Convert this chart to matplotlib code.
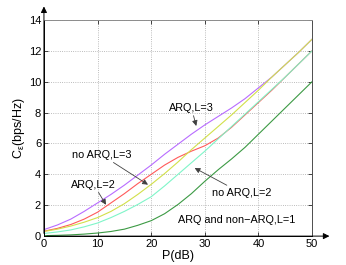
import numpy as np
from matplotlib import pyplot as plt

plt.rcParams['font.family'] = ['Liberation Sans', 'DejaVu Sans']
plt.rcParams['mathtext.fontset'] = 'custom'
plt.rcParams['mathtext.rm'] = 'Liberation Sans'
plt.rcParams['mathtext.it'] = 'Liberation Sans'

# power axis (dB)
p_db = [0, 2.5, 5, 7.5, 10, 12.5, 15, 17.5, 20, 22.5, 25,
        27.5, 30, 32.5, 35, 37.5, 40, 42.5, 45, 47.5, 50]

# capacity curves
arq_l3 = [0.42, 0.72, 1.1, 1.6, 2.15, 2.7, 3.3, 3.95, 4.6, 5.3, 5.95,
          6.6, 7.2, 7.75, 8.3, 8.9, 9.6, 10.3, 11.1, 11.9, 12.75]
noarq_l3 = [0.3, 0.45, 0.65, 0.9, 1.2, 1.6, 2.1, 2.7, 3.35, 4.05, 4.8,
            5.6, 6.35, 7.1, 7.85, 8.65, 9.45, 10.3, 11.1, 11.9, 12.75]
arq_l2 = [0.32, 0.5, 0.75, 1.1, 1.55, 2.15, 2.75, 3.4, 4.0, 4.6, 5.1,
          5.5, 5.85, 6.35, 7.05, 7.85, 8.65, 9.45, 10.3, 11.15, 12.0]
noarq_l2 = [0.17, 0.27, 0.4, 0.6, 0.85, 1.2, 1.6, 2.05, 2.55, 3.25, 4.0,
            4.75, 5.5, 6.3, 7.1, 7.9, 8.7, 9.5, 10.3, 11.15, 12.0]
both_l1 = [0.03, 0.05, 0.08, 0.13, 0.2, 0.3, 0.45, 0.7, 1.0, 1.45, 2.05,
           2.75, 3.55, 4.3, 5.0, 5.75, 6.6, 7.45, 8.3, 9.15, 10.0]

x_ticks = [0, 10, 20, 30, 40, 50]
y_ticks = [0, 2, 4, 6, 8, 10, 12, 14]

fig = plt.figure(figsize=(3.46, 2.65), dpi=100)
ax = fig.add_axes([0.127, 0.109, 0.775, 0.816])

ax.plot(p_db, arq_l3, color='#b86cff', lw=0.8)
ax.plot(p_db, arq_l2, color='#ff5a5a', lw=0.8)
ax.plot(p_db, noarq_l3, color='#d2e04a', lw=0.8)
ax.plot(p_db, noarq_l2, color='#7ff5c8', lw=0.8)
ax.plot(p_db, both_l1, color='#3c9a44', lw=0.8)

ax.set_xlim(0, 50)
ax.set_ylim(0, 14)
ax.set_xticks(x_ticks)
ax.set_yticks(y_ticks)
ax.tick_params(direction='in', length=3, width=0.5, labelsize=8, pad=2,
               top=True, right=True, colors='k')
ax.grid(True, linestyle=':', color='0.65', lw=0.6)

ax.spines['top'].set_color('0.55')
ax.spines['right'].set_color('0.3')
for s in ax.spines.values():
    s.set_linewidth(0.7)

ax.set_xlabel('P(dB)', fontsize=9, labelpad=1)
ax.set_ylabel(r'C$_\epsilon$(bps/Hz)', fontsize=9, labelpad=1)

# axis arrows
ax.annotate('', xy=(1.075, 0), xytext=(0, 0), xycoords='axes fraction',
            arrowprops=dict(arrowstyle='-|>', color='k', lw=0.7, mutation_scale=9))
ax.annotate('', xy=(0, 1.075), xytext=(0, 0), xycoords='axes fraction',
            arrowprops=dict(arrowstyle='-|>', color='k', lw=0.7, mutation_scale=9))

arr = dict(arrowstyle='-|>', color='0.25', lw=0.6, mutation_scale=8,
           shrinkA=0, shrinkB=0)
fs = 7.8
ax.annotate('ARQ,L=3', xy=(28.4, 7.13), xytext=(27.5, 8.3),
            fontsize=fs, ha='center', va='center', arrowprops=arr)
ax.annotate('no ARQ,L=3', xy=(19.4, 3.33), xytext=(10.7, 5.27),
            fontsize=fs, ha='center', va='center', arrowprops=arr)
ax.annotate('ARQ,L=2', xy=(11.57, 2.03), xytext=(9.3, 3.33),
            fontsize=fs, ha='center', va='center', arrowprops=arr)
ax.annotate('no ARQ,L=2', xy=(28.1, 4.41), xytext=(36.8, 2.79),
            fontsize=fs, ha='center', va='center', arrowprops=arr)
ax.text(35.9, 1.02, 'ARQ and non\u2212ARQ,L=1', fontsize=fs,
        ha='center', va='center')

fig.savefig('out.png', dpi=100)
